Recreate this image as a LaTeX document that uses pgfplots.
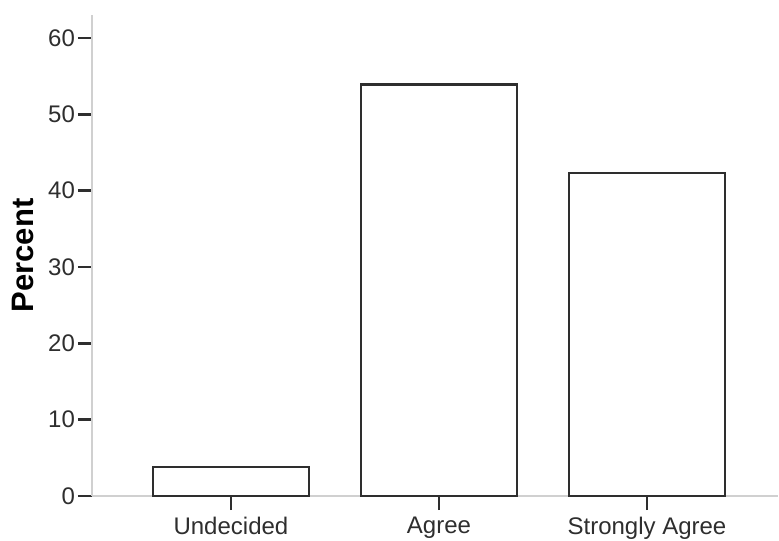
\documentclass[border=0pt]{standalone}
\usepackage{fontspec}
\setmainfont{Liberation Sans}
\usepackage{pgfplots}
\pgfplotsset{compat=1.18}
\definecolor{axisgray}{HTML}{D0D0D0}
\definecolor{dark}{HTML}{2E2E2E}
\begin{document}
\begin{tikzpicture}
\begin{axis}[
  name=ax,
  scale only axis,
  width=343pt, height=240.5pt,
  xmin=-0.668, xmax=2.63,
  ymin=0, ymax=63,
  axis lines*=left,
  axis line style={draw=axisgray, line width=1.3pt, -},
  xtick={0,1,2},
  xticklabels={Undecided, Agree, Strongly Agree},
  ytick={0,10,...,60},
  tick align=outside,
  major tick length=7pt,
  major tick style={draw=dark, line width=1.3pt},
  ticklabel style={font=\fontsize{12}{14}\selectfont, text=dark},
  yticklabel style={xshift=2pt},
  /pgf/number format/assume math mode=true,
  ylabel={Percent},
  ylabel style={at={(axis description cs:-0.1006,0.5)}, anchor=center, font=\fontsize{15.5}{18}\selectfont\bfseries, text=black},
  ybar, bar width=0.75,
]
\addplot[fill=white, draw=dark, line width=1.1pt] coordinates {(0,3.8) (1,53.9) (2,42.3)};
\end{axis}
\pgfresetboundingbox
\path ([shift={(-46pt,-22pt)}]ax.south west) rectangle ([shift={(0.5pt,7.5pt)}]ax.north east);
\end{tikzpicture}
\end{document}
